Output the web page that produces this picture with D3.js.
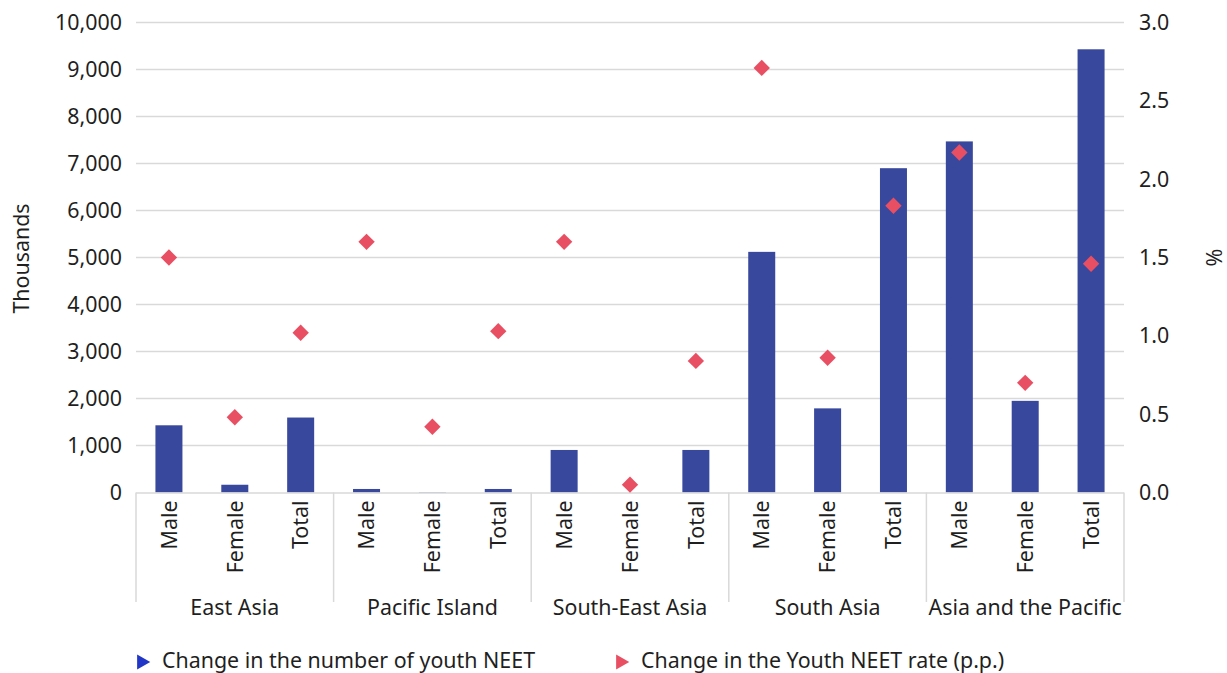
<!DOCTYPE html>
<html>
<head>
<meta charset="utf-8">
<script src="https://cdn.jsdelivr.net/npm/d3@7"></script>
<style>
  html, body { margin: 0; padding: 0; background: #ffffff; }
  svg text { font-family: "Noto Sans", "Open Sans", sans-serif; fill: #1f1f1f; }
</style>
</head>
<body>
<svg id="chart" width="1227" height="673"></svg>
<script>
// Regions and sex breakdown
const regions = ["East Asia", "Pacific Island", "South-East Asia", "South Asia", "Asia and the Pacific"];
const sexes = ["Male", "Female", "Total"];

// Change in the number of youth NEET (thousands), per region: Male, Female, Total
const neetChange = [
  [1430, 165, 1595],
  [75, 8, 75],
  [905, 0, 905],
  [5120, 1790, 6900],
  [7470, 1950, 9430]
];

// Change in the youth NEET rate (percentage points), per region: Male, Female, Total
const rateChange = [
  [1.50, 0.48, 1.02],
  [1.60, 0.42, 1.03],
  [1.60, 0.05, 0.84],
  [2.71, 0.86, 1.83],
  [2.17, 0.70, 1.46]
];

const leftTicks = [0, 1000, 2000, 3000, 4000, 5000, 6000, 7000, 8000, 9000, 10000];
const rightTicks = [0, 0.5, 1.0, 1.5, 2.0, 2.5, 3.0];
const legendLabels = ["Change in the number of youth NEET", "Change in the Youth NEET rate (p.p.)"];

const barColor = "#38489d";
const dotColor = "#e94f62";
const legendBlue = "#2136c6";
const gridColor = "#d9d9d9";
const fontSize = 21.4;

const svg = d3.select("#chart");

const plot = { left: 136, right: 1124, top: 22.5, bottom: 492.5 };
const boxBottom = 602;

const x0 = d3.scaleBand().domain(regions).range([plot.left, plot.right]).padding(0);
const x1 = d3.scaleBand().domain(sexes).range([0, x0.bandwidth()])
  .paddingInner(0.59).paddingOuter(0.295);
const yL = d3.scaleLinear().domain([0, 10000]).range([plot.bottom, plot.top]);
const yR = d3.scaleLinear().domain([0, 3]).range([plot.bottom, plot.top]);

// Horizontal gridlines
svg.append("g").selectAll("line").data(leftTicks.slice(1)).join("line")
  .attr("x1", plot.left).attr("x2", plot.right)
  .attr("y1", d => yL(d)).attr("y2", d => yL(d))
  .attr("stroke", gridColor).attr("stroke-width", 1.3);

// Left axis (thousands)
const leftAxis = d3.axisLeft(yL).tickValues(leftTicks).tickFormat(d3.format(",")).tickSize(0).tickPadding(14);
const gL = svg.append("g").attr("transform", `translate(${plot.left},0)`).call(leftAxis);
gL.select(".domain").remove();
gL.selectAll("text").style("font-size", fontSize + "px").attr("fill", "#1f1f1f");

// Right axis (%)
const rightAxis = d3.axisRight(yR).tickValues(rightTicks).tickFormat(d3.format(".1f")).tickSize(0).tickPadding(15);
const gR = svg.append("g").attr("transform", `translate(${plot.right},0)`).call(rightAxis);
gR.select(".domain").remove();
gR.selectAll("text").style("font-size", fontSize + "px").attr("fill", "#1f1f1f");

// Axis titles
svg.append("text")
  .attr("transform", `translate(29,${(plot.top + plot.bottom) / 2 + 1}) rotate(-90)`)
  .attr("text-anchor", "middle")
  .style("font-size", fontSize + "px")
  .text("Thousands");
svg.append("text")
  .attr("transform", `translate(1222,${(plot.top + plot.bottom) / 2}) rotate(-90)`)
  .attr("text-anchor", "middle")
  .style("font-size", fontSize + "px")
  .text("%");

// Flattened rows for marks
const rows = [];
regions.forEach((r, i) => sexes.forEach((s, j) => rows.push({
  region: r, sex: s, count: neetChange[i][j], rate: rateChange[i][j]
})));

// Bars
svg.append("g").selectAll("rect").data(rows).join("rect")
  .attr("x", d => x0(d.region) + x1(d.sex))
  .attr("width", x1.bandwidth())
  .attr("y", d => yL(Math.max(0, d.count)))
  .attr("height", d => Math.abs(yL(d.count) - yL(0)))
  .attr("fill", barColor);

// Category axis: baseline and region separators
const gX = svg.append("g");
gX.append("line")
  .attr("x1", plot.left).attr("x2", plot.right)
  .attr("y1", plot.bottom + 0.5).attr("y2", plot.bottom + 0.5)
  .attr("stroke", gridColor).attr("stroke-width", 1.5);
const bounds = regions.map(r => x0(r)).concat([plot.right]);
gX.selectAll("line.sep").data(bounds).join("line")
  .attr("class", "sep")
  .attr("x1", d => d).attr("x2", d => d)
  .attr("y1", plot.bottom).attr("y2", boxBottom)
  .attr("stroke", gridColor).attr("stroke-width", 1.5);

// Sex labels (rotated)
gX.selectAll("text.sex").data(rows).join("text")
  .attr("class", "sex")
  .attr("transform", d => `translate(${x0(d.region) + x1(d.sex) + x1.bandwidth() / 2},${plot.bottom + 8}) rotate(-90)`)
  .attr("text-anchor", "end")
  .attr("dy", "0.36em")
  .style("font-size", fontSize + "px")
  .text(d => d.sex);

// Region labels
gX.selectAll("text.region").data(regions).join("text")
  .attr("class", "region")
  .attr("x", d => x0(d) + x0.bandwidth() / 2)
  .attr("y", 615)
  .attr("text-anchor", "middle")
  .style("font-size", fontSize + "px")
  .text(d => d);

// Rate markers (diamonds)
const diamond = d3.symbol().type(d3.symbolSquare).size(134);
svg.append("g").selectAll("path").data(rows).join("path")
  .attr("d", diamond)
  .attr("transform", d => `translate(${x0(d.region) + x1(d.sex) + x1.bandwidth() / 2},${yR(d.rate)}) rotate(45)`)
  .attr("fill", dotColor);

// Legend
const tri = d3.symbol().type(d3.symbolTriangle).size(100);
const legend = svg.append("g");
const legendItems = [
  { label: legendLabels[0], color: legendBlue, x: 137 },
  { label: legendLabels[1], color: dotColor, x: 616 }
];
legendItems.forEach(it => {
  legend.append("path")
    .attr("d", tri)
    .attr("transform", `translate(${it.x + 4.5},662) rotate(90)`)
    .attr("fill", it.color);
  legend.append("text")
    .attr("x", it.x + 25).attr("y", 668)
    .style("font-size", fontSize + "px")
    .text(it.label);
});
</script>
</body>
</html>
